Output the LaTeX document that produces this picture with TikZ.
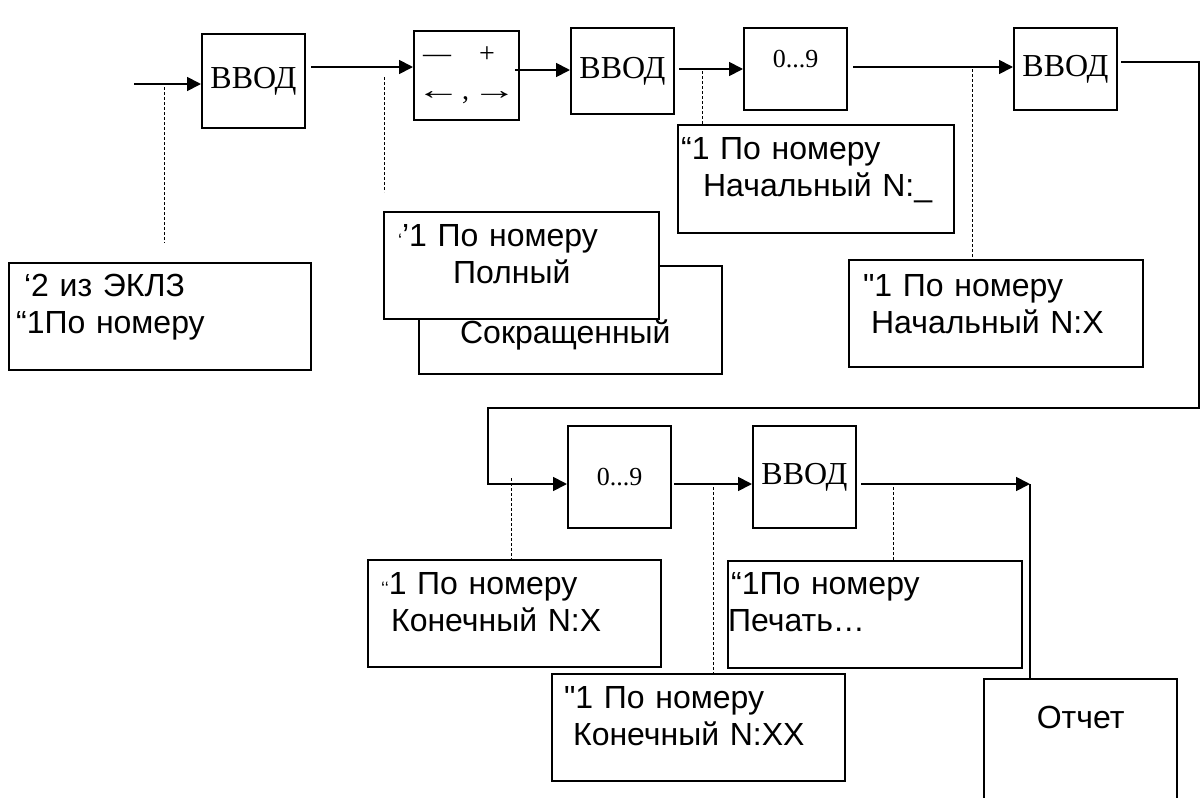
\documentclass[tikz,border=0pt]{standalone}
\usepackage{fontspec}
\usepackage{graphicx}
\setmainfont{Liberation Serif}
\newfontfamily\scrfont{Liberation Sans}
\usetikzlibrary{arrows.meta}
\tikzset{
  conn/.style={line width=1.8pt},
  arr/.style={conn, -{Triangle[length=14pt,width=14pt]}},
  lead/.style={line width=0.8pt, dash pattern=on 3pt off 2pt},
  key/.style={draw, line width=2pt, anchor=north west, minimum width=103pt, inner sep=0pt, font=\fontsize{32}{37}\selectfont},
  scr/.style={draw, fill=white, line width=2.2pt, anchor=north west, inner sep=0pt, align=left, font=\scrfont\fontsize{32}{37}\selectfont},
}
\begin{document}
\begin{tikzpicture}[x=1pt,y=-1pt]
\useasboundingbox (0,0) rectangle (1200,798);
\clip (0,0) rectangle (1200,798);
\node[key, minimum height=94pt] (vvodA) at (201,33) {\raisebox{-6pt}{ВВОД}};
\node[key, minimum width=105pt, minimum height=89pt, align=left, font=\fontsize{28}{37}\selectfont] (keysB) at (413,30) {\makebox[105pt][l]{\hspace*{9pt}—\hspace{28pt}+}\\\hspace*{10pt}\makebox[29pt]{\scalebox{1.6}[1]{←}}\hspace{9pt},\hspace{11pt}\makebox[29pt]{\scalebox{1.6}[1]{→}}};
\node[key, minimum height=86pt] (vvodC) at (570,27) {ВВОД};
\node[key, minimum height=82pt, font=\fontsize{26}{30}\selectfont] (digD) at (743,27) {\raisebox{20pt}{0...9}};
\node[key, minimum height=82pt] (vvodE) at (1013,27) {\raisebox{6pt}{ВВОД}};
\node[key, minimum height=102pt, font=\fontsize{26}{30}\selectfont] (digF) at (567,425) {0...9};
\node[key, minimum height=102pt] (vvodG) at (752,425) {\raisebox{-12pt}{ВВОД}};
\node[scr, text width=302pt, text height=33pt, text depth=74pt] (tbA) at (8,262) {\hspace*{15pt}‘2 из ЭКЛЗ\\\hspace*{7pt}“1По номеру};
\node[scr, text width=303pt, text height=77pt, text depth=31pt] (tbC) at (418,265) {\hspace*{41pt}Сокращенный};
\node[scr, text width=275pt, text height=34pt, text depth=73pt] (tbB) at (383,211) {\hspace*{14pt}{\fontsize{18}{18}\selectfont‘}’1 По номеру\\\hspace*{69pt}Полный};
\node[scr, text width=276pt, text height=34pt, text depth=74pt] (tbD) at (677,124) {\hspace*{3pt}“1 По номеру\\\hspace*{25pt}Начальный N:\_};
\node[scr, text width=294pt, text height=36pt, text depth=71pt] (tbE) at (848,259) {\hspace*{14pt}"1 По номеру\\\hspace*{22pt}Начальный N:X};
\node[scr, text width=293pt, text height=34pt, text depth=73pt] (tbF) at (367,559) {\hspace*{13pt}{\fontsize{18}{18}\selectfont‘‘}1 По номеру\\\hspace*{23pt}Конечный N:X};
\node[scr, text width=293pt, text height=34pt, text depth=73pt] (tbG) at (551,673) {\hspace*{12pt}"1 По номеру\\\hspace*{21pt}Конечный N:XX};
\node[scr, text width=294pt, text height=33pt, text depth=74pt] (tbH) at (727,560) {\hspace*{3pt}“1По номеру\\Печать…};
\node[scr, align=center, text width=193pt, text height=49pt, text depth=160pt] (otchet) at (983,678) {Отчет};
\coordinate (entry) at (134,84);
\coordinate (wrapR) at (1199,62);
\coordinate (wrapL) at (488,408);
\coordinate (outEnd) at (1030,484);
\draw[arr] (entry) -- (vvodA.west |- entry);
\draw[arr, shorten <=5pt] (vvodA.east |- 0,67) -- (keysB.west |- 0,67);
\draw[arr, shorten <=-5pt] (keysB.east |- 0,70) -- (vvodC.west |- 0,70);
\draw[arr, shorten <=4pt] (vvodC.east |- 0,69) -- (digD.west |- 0,69);
\draw[arr, shorten <=5pt] (digD.east |- 0,67) -- (vvodE.west |- 0,67);
\draw[arr, shorten <=3pt] (vvodE.east |- wrapR) -- (wrapR) |- (wrapL) |- (digF.west |- 0,484);
\draw[arr, shorten <=2pt] (digF.east |- 0,484) -- (vvodG.west |- 0,484);
\draw[arr, shorten <=4pt] (vvodG.east |- outEnd) -- (outEnd);
\draw[conn] (outEnd) -- (outEnd |- otchet.north);
\draw[lead] (164,87) -- (164,243);
\draw[lead] (384,77) -- (384,192);
\draw[lead] (702,71) -- (702,71 |- tbD.north);
\draw[lead] (972,69) -- (972,69 |- tbE.north);
\draw[lead] (511,478) -- (511,478 |- tbF.north);
\draw[lead] (713,487) -- (713,487 |- tbG.north);
\draw[lead] (893,487) -- (893,487 |- tbH.north);
\end{tikzpicture}
\end{document}
